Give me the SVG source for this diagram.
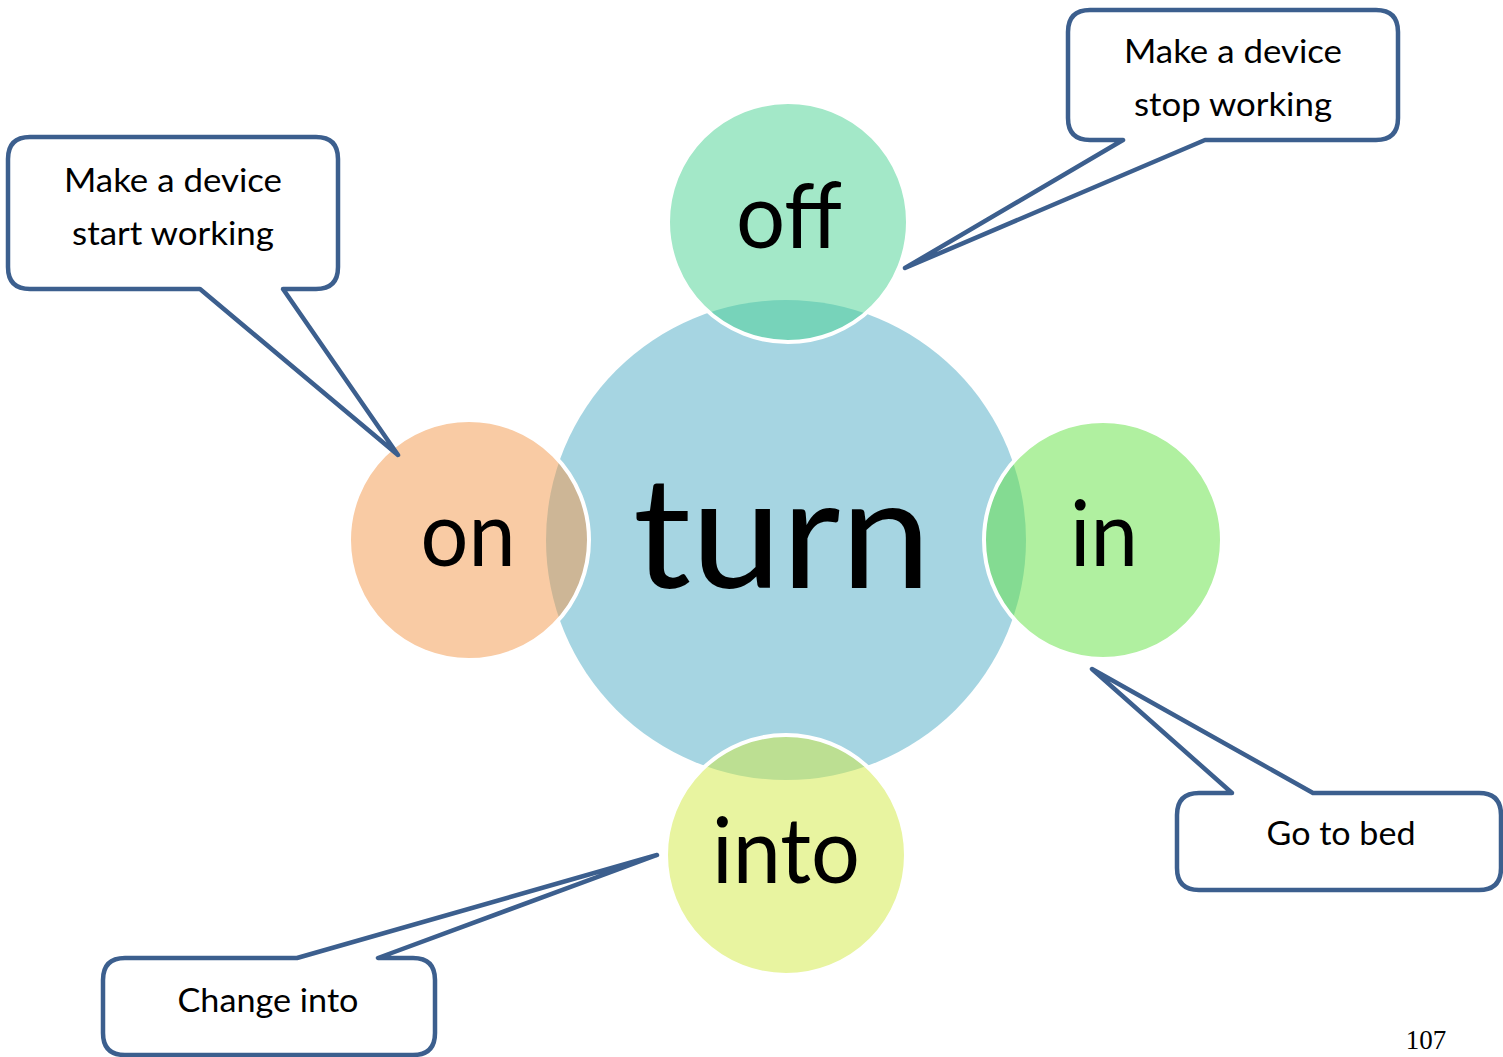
<svg xmlns="http://www.w3.org/2000/svg" width="1503" height="1057" viewBox="0 0 1503 1057">
<style>
.big{font-family:Lato,"Open Sans","Liberation Sans",sans-serif;fill:#000;text-anchor:middle}
.lbl{font-family:Lato,"Open Sans","Liberation Sans",sans-serif;font-size:33px;fill:#000;text-anchor:middle}
.sat{stroke:#fff;stroke-width:4;fill-opacity:0.5}
.call{fill:#fff;stroke:#3c5f8e;stroke-width:4.5;stroke-linejoin:round}
</style>
<defs>
<clipPath id="clipStop"><rect x="1068" y="10" width="330" height="112"/></clipPath>
</defs>
<rect width="1503" height="1057" fill="#fff"/>
<g id="turn">
<circle cx="786" cy="540" r="240" fill="#a6d5e2"/>
</g>
<g id="off">
<circle class="sat" cx="788" cy="222" r="120" fill="#47d191"/>
<text class="big" x="789" y="248" font-size="92" textLength="106" lengthAdjust="spacingAndGlyphs">off</text>
</g>
<g id="on">
<circle class="sat" cx="469" cy="540" r="120" fill="#f39749"/>
<text class="big" x="468" y="566" font-size="92" textLength="95" lengthAdjust="spacingAndGlyphs">on</text>
</g>
<g id="in">
<circle class="sat" cx="1103" cy="540" r="119" fill="#61e141"/>
<text class="big" x="1104" y="566" font-size="92" textLength="68" lengthAdjust="spacingAndGlyphs">in</text>
</g>
<g id="into">
<circle class="sat" cx="786" cy="855" r="120" fill="#d1e941"/>
<text class="big" x="786" y="883" font-size="92" textLength="148" lengthAdjust="spacingAndGlyphs">into</text>
</g>
<text class="big" x="782" y="588" font-size="156" textLength="298" lengthAdjust="spacingAndGlyphs">turn</text>
<g id="connectors">
<g id="callout-off">
<path class="call" d="M 1090,10 H 1376 Q 1398,10 1398,32 V 118 Q 1398,140 1376,140 H 1205 L 905,268 L 1123,140 H 1090 Q 1068,140 1068,118 V 32 Q 1068,10 1090,10 Z"/>
<text class="lbl" x="1233" y="63" textLength="218" lengthAdjust="spacingAndGlyphs">Make a device</text>
<text class="lbl" x="1233" y="116" textLength="198" lengthAdjust="spacingAndGlyphs" clip-path="url(#clipStop)">stop working</text>
</g>
<g id="callout-on">
<path class="call" d="M 30,137 H 316 Q 338,137 338,159 V 267 Q 338,289 316,289 H 283 L 398,455 L 200,289 H 30 Q 8,289 8,267 V 159 Q 8,137 30,137 Z"/>
<text class="lbl" x="173" y="192" textLength="218" lengthAdjust="spacingAndGlyphs">Make a device</text>
<text class="lbl" x="173" y="245" textLength="202" lengthAdjust="spacingAndGlyphs">start working</text>
</g>
<g id="callout-in">
<path class="call" d="M 1199,793 H 1232 L 1092,669 L 1313,793 H 1479 Q 1501,793 1501,815 V 868 Q 1501,890 1479,890 H 1199 Q 1177,890 1177,868 V 815 Q 1177,793 1199,793 Z"/>
<text class="lbl" x="1341" y="845" textLength="149" lengthAdjust="spacingAndGlyphs">Go to bed</text>
</g>
<g id="callout-into">
<path class="call" d="M 125,958 H 297 L 657,855 L 378,958 H 413 Q 435,958 435,980 V 1033 Q 435,1055 413,1055 H 125 Q 103,1055 103,1033 V 980 Q 103,958 125,958 Z"/>
<text class="lbl" x="268" y="1012" textLength="181" lengthAdjust="spacingAndGlyphs">Change into</text>
</g>
</g>
<text x="1426" y="1049" font-family="'Liberation Serif',serif" font-size="27" text-anchor="middle" fill="#000">107</text>
</svg>
